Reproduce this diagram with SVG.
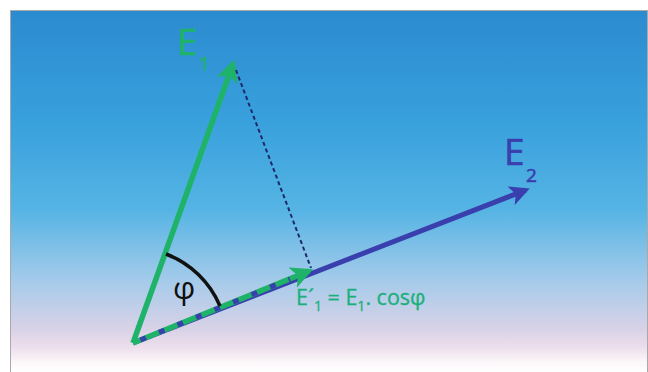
<svg xmlns="http://www.w3.org/2000/svg" width="648" height="372" viewBox="0 0 648 372">
<defs>
<linearGradient id="bg" x1="0" y1="0" x2="0" y2="1">
<stop offset="0" stop-color="#2b8bd0"/>
<stop offset="0.3" stop-color="#38a0dc"/>
<stop offset="0.55" stop-color="#55b4e4"/>
<stop offset="0.75" stop-color="#a6cbea"/>
<stop offset="0.88" stop-color="#d8d2e7"/>
<stop offset="0.93" stop-color="#ecdeec"/>
<stop offset="0.97" stop-color="#fbf6f9"/>
<stop offset="1" stop-color="#ffffff"/>
</linearGradient>
<marker id="ag" viewBox="0 0 10 10" refX="8" refY="5" markerWidth="4" markerHeight="4" orient="auto" markerUnits="strokeWidth">
<path d="M0,0 L10,5 L0,10 L2.5,5 Z" fill="#1fb36a"/>
</marker>
<marker id="ab" viewBox="0 0 10 10" refX="8" refY="5" markerWidth="4" markerHeight="4" orient="auto" markerUnits="strokeWidth">
<path d="M0,0 L10,5 L0,10 L2.5,5 Z" fill="#3a3fae"/>
</marker>
<style>
.lbl{font-family:"Open Sans","DejaVu Sans",sans-serif}
.g{fill:#1fb36a;stroke:#1fb36a;stroke-width:0.6}
.b{fill:#3a3fae;stroke:#3a3fae;stroke-width:0.6}
</style>
</defs>
<rect x="10.5" y="10.5" width="637" height="362" fill="url(#bg)" stroke="#a9a9a9" stroke-width="1"/>
<g id="connectors">
<line x1="133" y1="343" x2="526" y2="190" stroke="#3a3fae" stroke-width="5" marker-end="url(#ab)"/>
<line x1="133" y1="343" x2="309" y2="271" stroke="#1fb36a" stroke-width="5.5" marker-end="url(#ag)"/>
<line x1="133" y1="343" x2="290" y2="279" stroke="#3a3fae" stroke-width="5" stroke-dasharray="6 14" stroke-dashoffset="-8"/>
<line x1="133" y1="343" x2="233" y2="64" stroke="#1fb36a" stroke-width="5.5" marker-end="url(#ag)"/>
<line x1="236" y1="70" x2="311" y2="268" stroke="#1d2a6a" stroke-width="2" stroke-dasharray="4 3"/>
<path d="M166,254 A95,95 0 0 1 220,306" fill="none" stroke="#111" stroke-width="3.5"/>
</g>
<g id="E1">
<text class="lbl g" x="177" y="55" font-size="37">E</text>
<text class="lbl g" x="199" y="70" font-size="19">1</text>
</g>
<g id="E2">
<text class="lbl b" x="504" y="165" font-size="37">E</text>
<text class="lbl b" x="526" y="182" font-size="19">2</text>
</g>
<g id="phi">
<text class="lbl" x="173" y="299" font-size="31" fill="#111">φ</text>
</g>
<g id="formula">
<text class="lbl" x="296" y="305" font-size="21.5" fill="#1ab07a" stroke="#1ab07a" stroke-width="0.3">E´<tspan font-size="14" dy="6">1</tspan><tspan dy="-6"> = E</tspan><tspan font-size="14" dy="6">1</tspan><tspan dy="-6">. cosφ</tspan></text>
</g>
</svg>
